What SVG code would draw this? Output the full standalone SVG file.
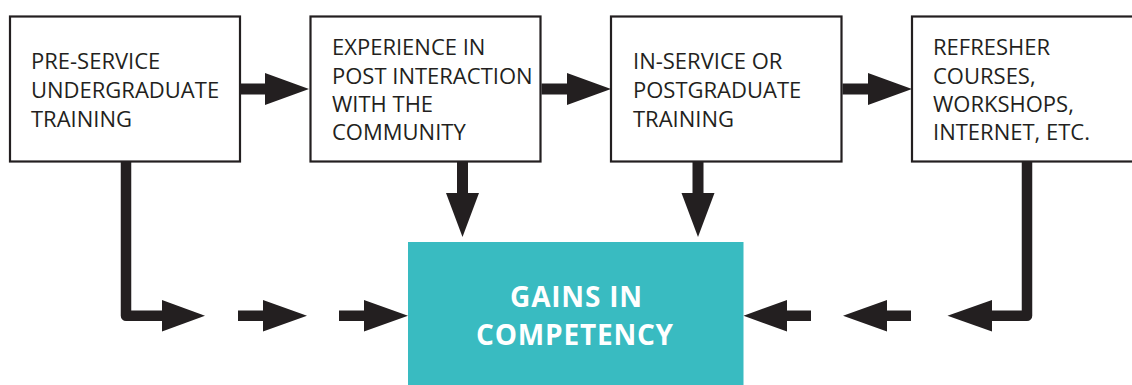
<svg xmlns="http://www.w3.org/2000/svg" width="1132" height="385" viewBox="0 0 1132 385">
<style>
.box{fill:#fff;stroke:#231f20;stroke-width:2.2}
.lbl{font-family:"Open Sans","Noto Sans",sans-serif;font-size:22px;fill:#231f20}
.goal{fill:#39bbc1}
.glbl{font-family:"Open Sans","Noto Sans",sans-serif;font-size:28px;font-weight:bold;letter-spacing:0.8px;fill:#fff;text-anchor:middle}
.arr{fill:#231f20}
.line{fill:none;stroke:#231f20;stroke-width:10.5;stroke-linejoin:round}
</style>
<rect width="1132" height="385" fill="#fff"/>
<g id="node-preservice">
<rect class="box" x="10" y="16.5" width="230" height="145"/>
<text class="lbl"><tspan x="31" y="69">PRE-SERVICE</tspan><tspan x="31" y="98">UNDERGRADUATE</tspan><tspan x="31" y="127">TRAINING</tspan></text>
</g>
<g id="node-experience">
<rect class="box" x="310.5" y="16.5" width="230" height="145"/>
<text class="lbl"><tspan x="332" y="55">EXPERIENCE IN</tspan><tspan x="332" y="83.5">POST INTERACTION</tspan><tspan x="332" y="112">WITH THE</tspan><tspan x="332" y="140">COMMUNITY</tspan></text>
</g>
<g id="node-inservice">
<rect class="box" x="611" y="16.5" width="230.5" height="145"/>
<text class="lbl"><tspan x="633" y="69">IN-SERVICE OR</tspan><tspan x="633" y="98">POSTGRADUATE</tspan><tspan x="633" y="126.5">TRAINING</tspan></text>
</g>
<g id="node-refresher">
<rect class="box" x="912" y="16.5" width="224" height="145"/>
<text class="lbl"><tspan x="933" y="55">REFRESHER</tspan><tspan x="933" y="83.5">COURSES,</tspan><tspan x="933" y="112">WORKSHOPS,</tspan><tspan x="933" y="140">INTERNET, ETC.</tspan></text>
</g>
<g id="node-gains">
<rect class="goal" x="408" y="242" width="335.5" height="145"/>
<text class="glbl"><tspan x="576.5" y="307">GAINS IN</tspan><tspan x="575" y="345">COMPETENCY</tspan></text>
</g>
<g id="connectors">
<path class="arr" d="M241,83.5 H265 V73 L309,89 L265,105 V94.5 H241 Z"/>
<path class="arr" d="M541.5,83.5 H567 V73 L611,89 L567,105 V94.5 H541.5 Z"/>
<path class="arr" d="M842.5,83.5 H868 V73 L912,89 L868,105 V94.5 H842.5 Z"/>
<path class="arr" d="M457,162 V193 H446 L462.5,237 L479,193 H468 V162 Z"/>
<path class="arr" d="M692.5,162 V193 H681.5 L698,237 L714.5,193 H703.5 V162 Z"/>
<path class="line" d="M126,162 V315.8 H163"/>
<path class="arr" d="M162,300 L205,315.8 L162,331.6 Z"/>
<path class="arr" d="M238,310.5 H263 V300 L307,315.8 L263,331.6 V321 H238 Z"/>
<path class="arr" d="M339,310.5 H364 V300 L408,315.8 L364,331.6 V321 H339 Z"/>
<path class="line" d="M1027,162 V315.8 H991"/>
<path class="arr" d="M992,300 L947.5,315.8 L992,331.6 Z"/>
<path class="arr" d="M911,310.5 H887 V300 L843,315.8 L887,331.6 V321 H911 Z"/>
<path class="arr" d="M811,310.5 H787 V300 L743.5,315.8 L787,331.6 V321 H811 Z"/>
</g>
</svg>
